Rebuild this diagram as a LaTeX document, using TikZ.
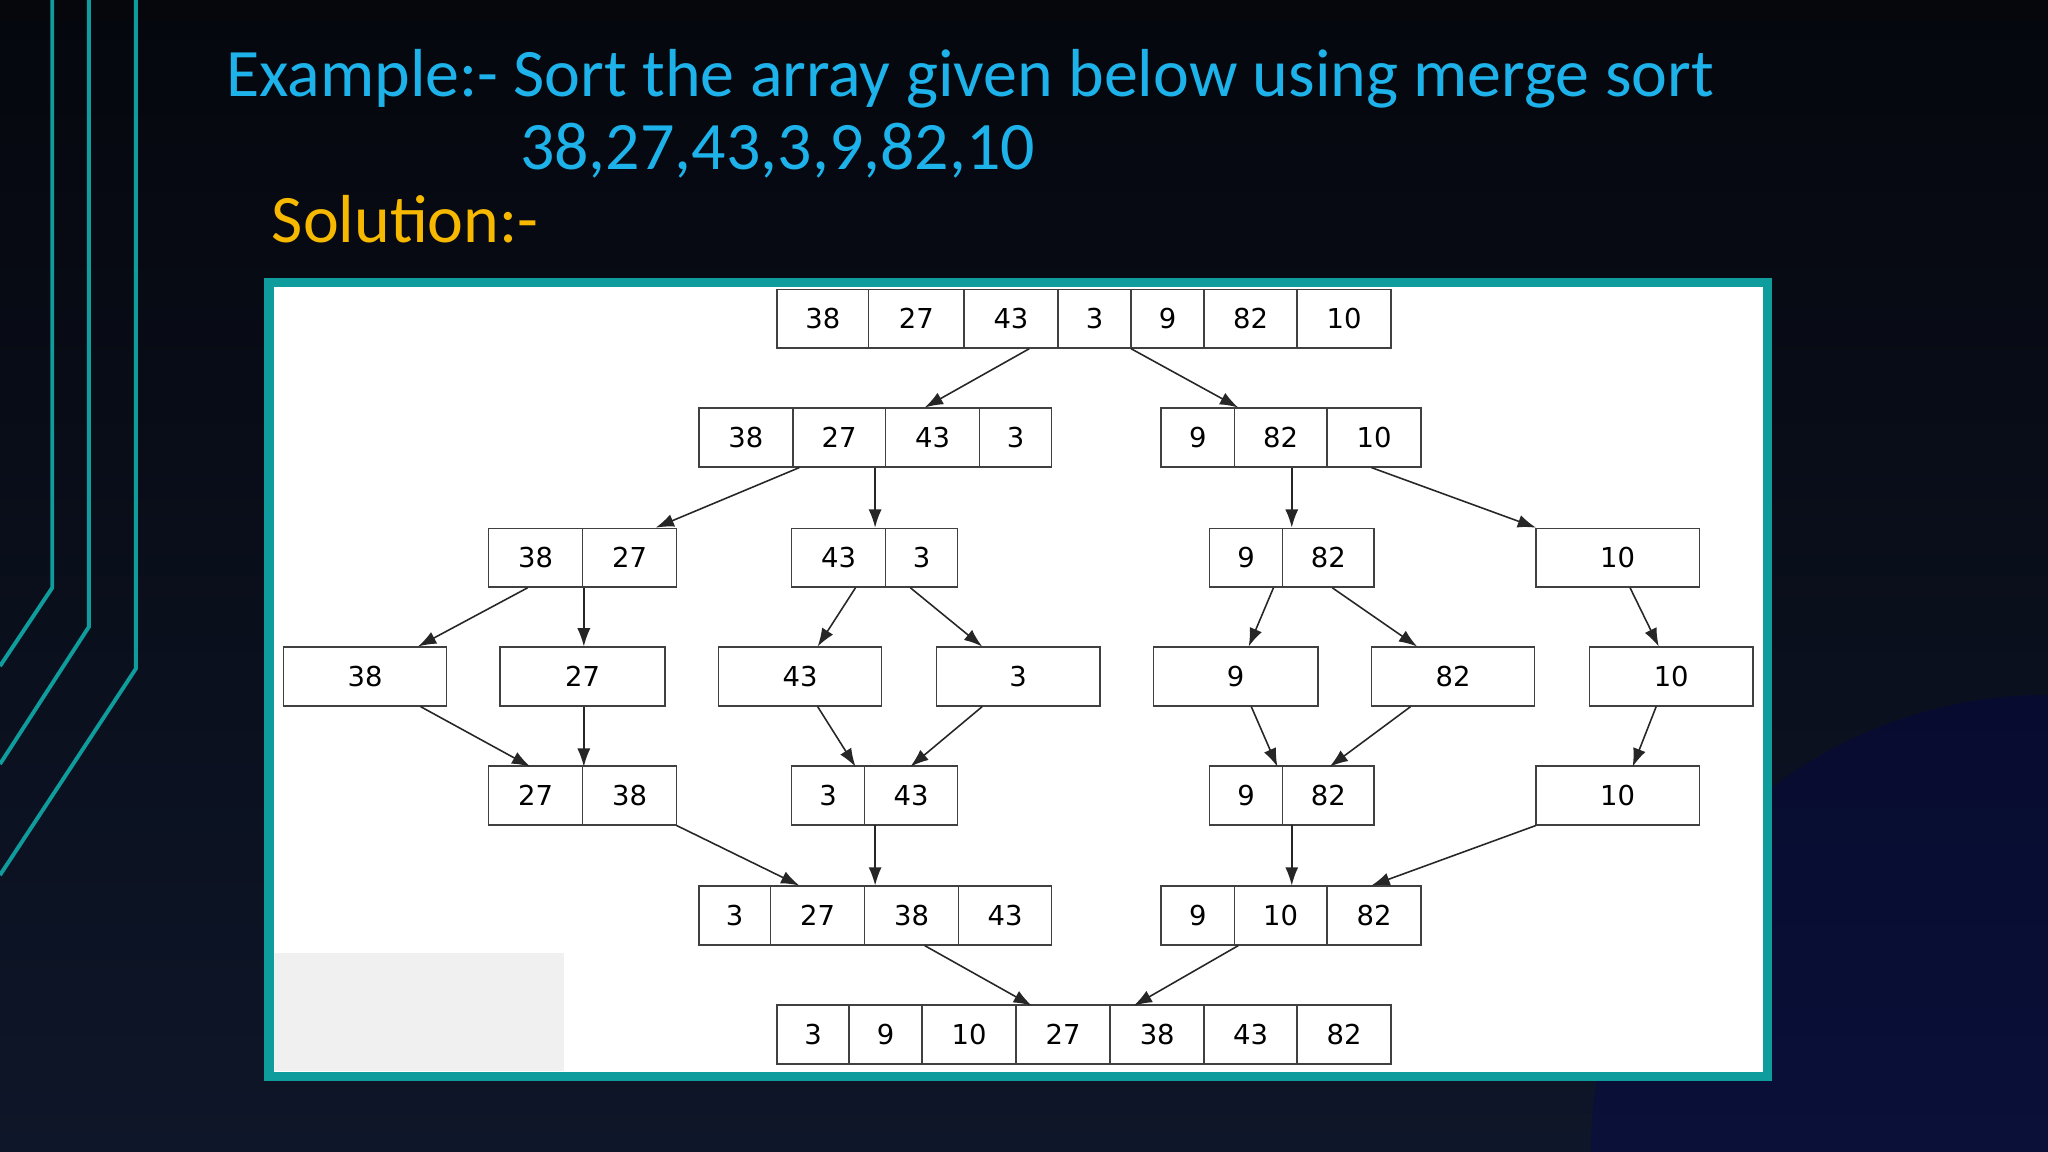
\documentclass[tikz,border=0pt]{standalone}
\usepackage{fontspec}
\setmainfont{Carlito}
\newfontfamily\cellfont{DejaVu Sans}
\usetikzlibrary{arrows.meta}
\definecolor{teal1}{HTML}{0E9C9C}
\definecolor{titleblue}{HTML}{1DB2EA}
\definecolor{gold}{HTML}{F7B800}
\definecolor{bgtop}{HTML}{05070D}
\definecolor{bgbot}{HTML}{0E1629}
\tikzset{
 cell/.style={draw=black!75,line width=1.2pt,fill=white,minimum height=45pt,inner sep=0pt,font=\cellfont\fontsize{21}{22}\selectfont},
 arr/.style={-{Latex[length=14pt,width=10pt]},line width=1.2pt,black!85},
 deco/.style={teal1,line width=3pt},
 ttl/.style={anchor=base west,inner sep=0,font=\fontsize{52}{56}\selectfont}
}
\begin{document}
\begin{tikzpicture}[x=1pt,y=-1pt]
\shade[top color=bgtop,bottom color=bgbot] (0,0) rectangle (1568,882);
\begin{scope}
\clip (0,0) rectangle (1568,882);
\fill[blue!40!black,opacity=0.25] (1568,882) circle (350);
\end{scope}
\useasboundingbox (0,0) rectangle (1568,882);
\draw[deco] (40,0)--(40,450)--(0,510);
\draw[deco] (68,0)--(68,480)--(0,585);
\draw[deco] (104,0)--(104,512)--(0,670);
\node[ttl,text=titleblue] (t1) at (173,74) {Example:- Sort the array given below using merge sort};
\node[ttl,text=titleblue] (t2) at (398,130) {38,27,43,3,9,82,10};
\node[ttl,text=gold] (t3) at (208,186) {Solution:-};
\draw[teal1,line width=7pt,fill=white] (206,216) rectangle (1353,824);
\fill[black!6] (210,730) rectangle (432,820);
\foreach \y/\lst in {
244/{595/665/38,665/738/27,738/810/43,810/866/3,866/922/9,922/993/82,993/1065/10},
335/{535/607/38,607/678/27,678/750/43,750/805/3,889/945/9,945/1016/82,1016/1088/10},
427/{374/446/38,446/518/27,606/678/43,678/733/3,926/982/9,982/1052/82,1176/1301/10},
518/{217/342/38,383/509/27,550/675/43,717/842/3,883/1009/9,1050/1175/82,1217/1342/10},
609/{374/446/27,446/518/38,606/662/3,662/733/43,926/982/9,982/1052/82,1176/1301/10},
701/{535/590/3,590/662/27,662/734/38,734/805/43,889/945/9,945/1016/10,1016/1088/82},
792/{595/650/3,650/706/9,706/778/10,778/850/27,850/922/38,922/993/43,993/1065/82}}
{\foreach \a/\b/\t in \lst
  \node[cell,minimum width={(\b-\a)*1pt}] (c\y-\a) at ({(\a+\b)/2},\y) {\t};}
\foreach \xa/\ya/\xb/\yb in {788/267/708/312,866/267/948/312,612/358/502/404,670/358/670/404,989/358/989/404,1050/358/1176/404,
404/450/320/495,447/450/447/495,655/450/626/495,697/450/752/495,975/450/956/495,1020/450/1085/495,1248/450/1270/495,
322/541/406/587,447/541/447/587,626/541/655/587,752/541/697/587,958/541/978/587,1080/541/1018/587,1268/541/1250/587,
518/632/612/678,670/632/670/678,989/632/989/678,1176/632/1050/678,708/724/790/770,948/724/868/770}
{\coordinate (s) at (\xa,\ya); \coordinate (e) at (\xb,\yb); \draw[arr] (s) -- (e);}
\end{tikzpicture}
\end{document}
